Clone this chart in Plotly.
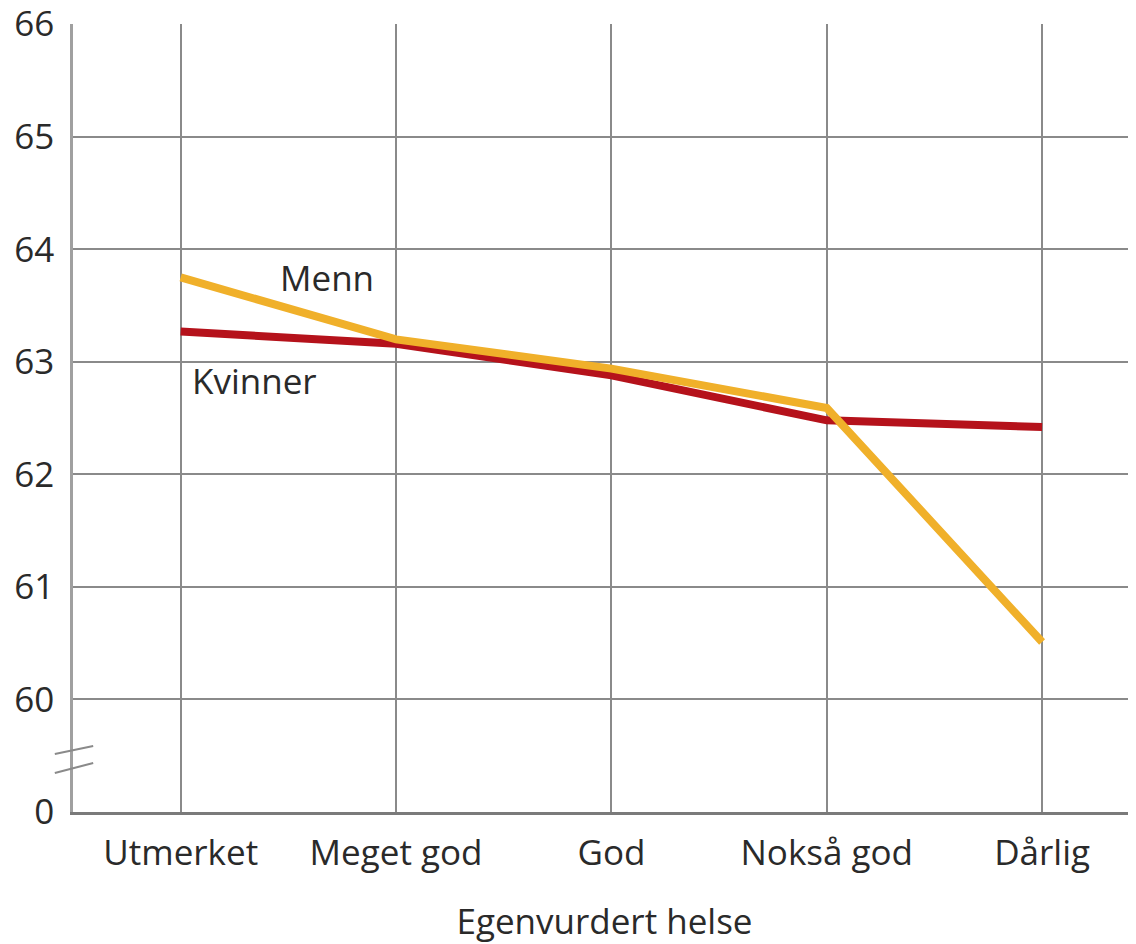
import plotly.graph_objects as go

categories = ["Utmerket", "Meget god", "God", "Nokså god", "Dårlig"]
menn = [63.75, 63.20, 62.94, 62.59, 60.51]
kvinner = [63.27, 63.16, 62.88, 62.48, 62.42]
y_tickvals = [59, 60, 61, 62, 63, 64, 65, 66]
y_ticktext = ["0", "60", "61", "62", "63", "64", "65", "66"]

FONT = "Open Sans"
x_idx = list(range(len(categories)))

fig = go.Figure()
fig.add_trace(go.Scatter(x=x_idx, y=kvinner, mode="lines", name="Kvinner",
                         line=dict(color="#B5121B", width=8)))
fig.add_trace(go.Scatter(x=x_idx, y=menn, mode="lines", name="Menn",
                         line=dict(color="#F0B02A", width=8)))

fig.update_layout(
    width=1136, height=944,
    margin=dict(l=65, r=8, t=16, b=140, autoexpand=False),
    plot_bgcolor="white", paper_bgcolor="white",
    showlegend=False,
    font=dict(family=FONT, size=35, color="#2a2a2a"),
    xaxis=dict(
        range=[-0.5, 4.436], tickmode="array", tickvals=x_idx, ticktext=categories,
        showgrid=True, gridcolor="#8a8a8a", gridwidth=1.5,
        showline=True, linecolor="#7a7a7a", linewidth=2.5,
        ticks="", ticklabelstandoff=8, zeroline=False, automargin=False,
        title=dict(text="Egenvurdert helse", font=dict(size=35, color="#2a2a2a"), standoff=36),
    ),
    yaxis=dict(
        range=[59, 66.002], tickmode="array", tickvals=y_tickvals, ticktext=y_ticktext,
        showgrid=True, gridcolor="#8a8a8a", gridwidth=1.5,
        showline=True, linecolor="#a0a0a0", linewidth=2.5,
        ticks="", ticklabelstandoff=9, zeroline=False, automargin=False,
        ticklabeloverflow="allow",
    ),
    annotations=[
        dict(x=0.68, y=63.75, xref="x", yref="y", text="Menn", showarrow=False,
             font=dict(size=35, color="#2a2a2a")),
        dict(x=0.345, y=62.83, xref="x", yref="y", text="Kvinner", showarrow=False,
             font=dict(size=35, color="#2a2a2a")),
    ],
    shapes=[
        dict(type="line", xref="paper", yref="y", x0=-0.0171, x1=0.019, y0=59.515, y1=59.586,
             line=dict(color="#8a8a8a", width=2)),
        dict(type="line", xref="paper", yref="y", x0=-0.0171, x1=0.019, y0=59.346, y1=59.435,
             line=dict(color="#8a8a8a", width=2)),
    ],
)

fig.write_html("out.html")
